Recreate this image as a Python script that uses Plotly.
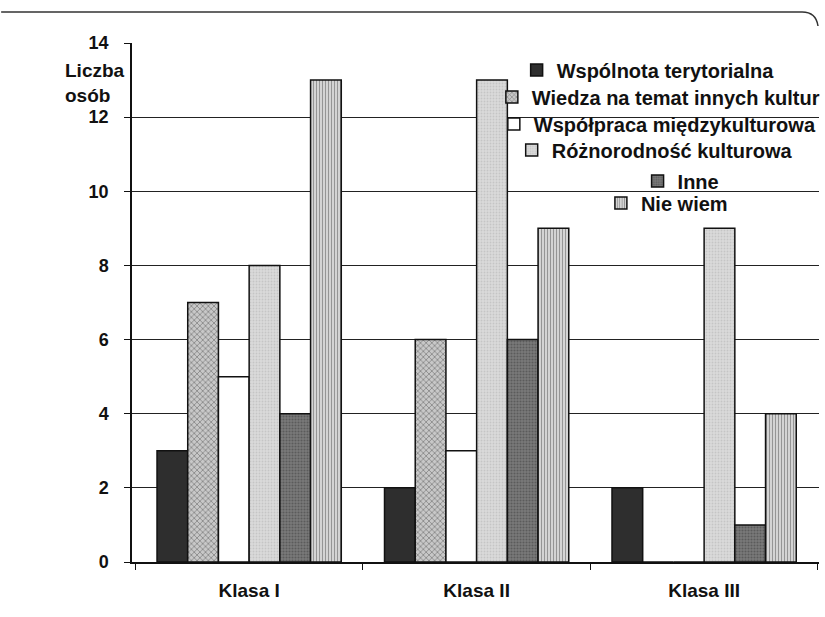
import plotly.graph_objects as go

categories = ["Klasa I", "Klasa II", "Klasa III"]
series_names = [
    "Wspólnota terytorialna",
    "Wiedza na temat innych kultur",
    "Współpraca międzykulturowa",
    "Różnorodność kulturowa",
    "Inne",
    "Nie wiem",
]
wspolnota = [3, 2, 2]
wiedza = [7, 6, 0]
wspolpraca = [5, 3, 0]
roznorodnosc = [8, 13, 9]
inne = [4, 6, 1]
nie_wiem = [13, 9, 4]
values = [wspolnota, wiedza, wspolpraca, roznorodnosc, inne, nie_wiem]
y_ticks = [0, 2, 4, 6, 8, 10, 12, 14]

styles = [
    dict(color="#2e2e2e"),
    dict(color="#b8b8b8", pattern=dict(shape="x", fgcolor="#3a3a3a", bgcolor="#c8c8c8", size=4, solidity=0.35)),
    dict(color="#ffffff"),
    dict(color="#d6d6d6", pattern=dict(shape=".", fgcolor="#b0b0b0", bgcolor="#dadada", size=3, solidity=0.3)),
    dict(color="#6a6a6a", pattern=dict(shape=".", fgcolor="#3c3c3c", bgcolor="#7a7a7a", size=3, solidity=0.4)),
    dict(color="#bdbdbd", pattern=dict(shape="|", fgcolor="#4a4a4a", bgcolor="#e0e0e0", size=3, solidity=0.45)),
]

W, H = 825, 617
L, R, T, B = 132, 0, 43, 55
pw, ph = W - L - R, H - T - B

def px_x(x):
    return (x - L) / pw

def px_y(y):
    return (H - B - y) / ph

fig = go.Figure()
legend_rows = [70, 97, 124, 150, 181, 203]
legend_text_start = [560, 535, 537, 555, 682, 645]
family = "Liberation Sans, Arial, sans-serif"
legend_font = dict(family=family, size=20, color="#111", weight=700)

layout_legends = {}
for i, (name, vals, st) in enumerate(zip(series_names, values, styles)):
    key = f"legend{i+2}"
    marker = dict(line=dict(color="#111", width=1.5), **st)
    fig.add_trace(go.Bar(name=name, x=categories, y=vals, marker=marker, legend=key, showlegend=True))
    layout_legends[key] = dict(
        x=px_x(legend_text_start[i] - 40), y=px_y(legend_rows[i]), xanchor="left", yanchor="middle",
        bgcolor="rgba(0,0,0,0)", font=legend_font, itemwidth=30, tracegroupgap=0,
    )

fig.update_layout(
    width=W, height=H,
    margin=dict(l=L, r=R, t=T, b=B),
    paper_bgcolor="white", plot_bgcolor="white",
    barmode="group", bargap=0.19, bargroupgap=0,
    font=dict(family=family, size=18, color="#111", weight=700),
    showlegend=True,
    **layout_legends,
)
fig.update_xaxes(
    range=[-0.515, 2.505], showline=True, linecolor="#111", linewidth=1.5,
    ticks="outside", tickson="boundaries", ticklen=6, tickcolor="#111",
    tickfont=dict(size=19, weight=700), ticklabelstandoff=10, showgrid=False,
)
fig.update_yaxes(
    range=[0, 14], tickvals=y_ticks, showline=True, linecolor="#111", linewidth=1.5,
    ticks="outside", ticklen=6, tickcolor="#111", tickfont=dict(size=18, weight=700),
    showgrid=True, gridcolor="#222", gridwidth=1, zeroline=False, ticklabelstandoff=12,
)
fig.add_annotation(
    text="Liczba<br>osób", xref="paper", yref="paper", x=px_x(62), y=px_y(83),
    xanchor="left", yanchor="middle",
    showarrow=False, font=dict(size=19, weight=700), align="left",
)
fig.add_shape(
    type="path", xref="paper", yref="paper",
    path=f"M {px_x(0)},{px_y(12)} L {px_x(808)},{px_y(12)} Q {px_x(822)},{px_y(12)} {px_x(824)},{px_y(26)}",
    line=dict(color="#333", width=1.5),
)
fig.write_html(
    "out.html",
    config={"displayModeBar": False},
    post_script="document.body.style.margin='0';document.body.style.overflow='hidden';",
)
